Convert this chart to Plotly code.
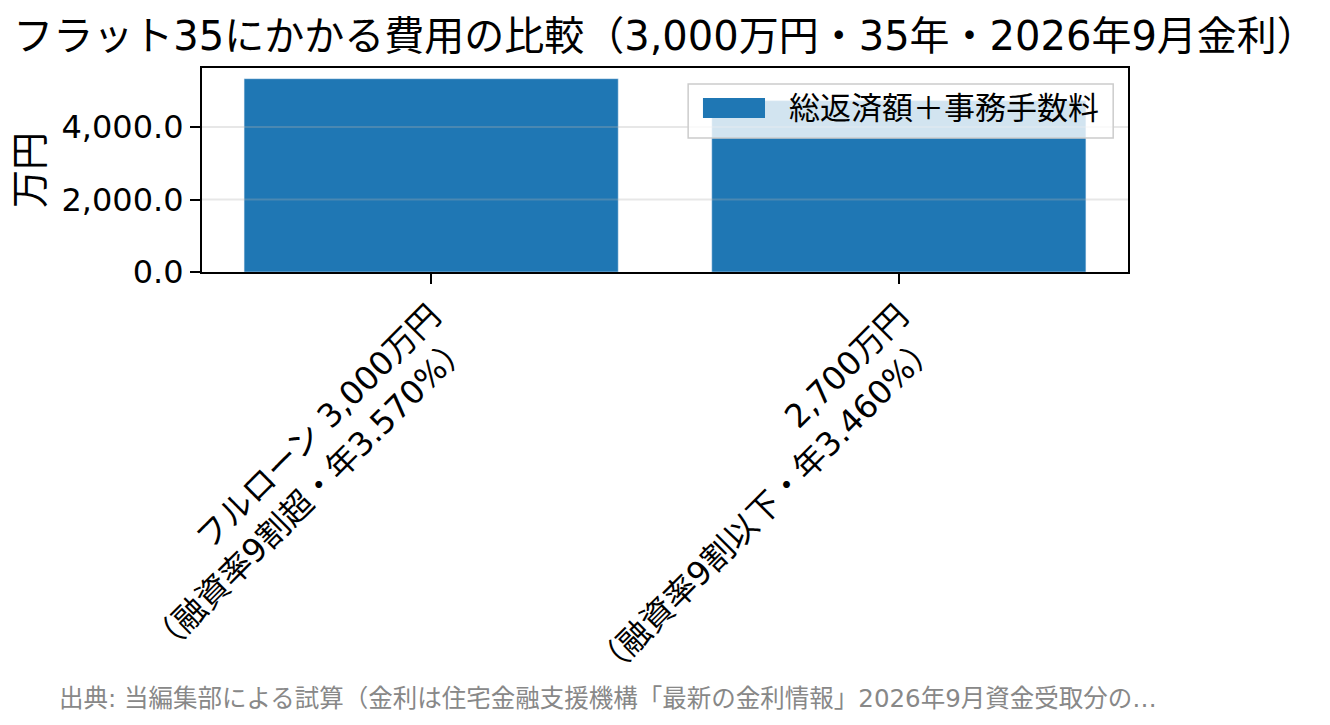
import plotly.graph_objects as go

# data
categories = [
    "フルローン 3,000万円<br>（融資率9割超・年3.570%）",
    "2,700万円<br>（融資率9割以下・年3.460%）",
]
totals = [5335, 4730]  # 総返済額＋事務手数料（万円）
y_ticks = [0, 2000, 4000]

title = "フラット35にかかる費用の比較（3,000万円・35年・2026年9月金利）"
legend_label = "総返済額＋事務手数料"
source = "出典: 当編集部による試算（金利は住宅金融支援機構「最新の金利情報」2026年9月資金受取分の…"

font = '"DejaVu Sans", "Noto Sans CJK JP", sans-serif'
blue = "#1f77b4"

fig = go.Figure()
fig.add_trace(go.Bar(x=categories, y=totals, name=legend_label,
                     marker_color=blue, width=0.8, showlegend=False))

# grid drawn over the bars, like the reference
for t in y_ticks[1:]:
    fig.add_shape(type="line", xref="paper", yref="y", x0=0, x1=1, y0=t, y1=t,
                  line=dict(color="rgba(176,176,176,0.3)", width=2), layer="above")

# matplotlib-style legend drawn by hand (wide patch)
fig.add_shape(type="rect", xref="paper", yref="paper",
              x0=0.525, x1=0.984, y0=0.657, y1=0.922,
              fillcolor="rgba(255,255,255,0.8)", line=dict(color="#cccccc", width=1.5))
fig.add_shape(type="rect", xref="paper", yref="paper",
              x0=0.541, x1=0.608, y0=0.755, y1=0.853,
              fillcolor=blue, line=dict(width=0))
fig.add_annotation(xref="paper", yref="paper", x=0.632, y=0.805,
                   text=legend_label, showarrow=False, xanchor="left", yanchor="middle",
                   font=dict(size=31, color="black", family=font))

fig.add_annotation(xref="paper", yref="paper", x=-0.157, y=-2.09,
                   text=source, showarrow=False, xanchor="left", yanchor="middle",
                   font=dict(size=24.5, color="#888888", family=font))

fig.update_layout(
    width=1330, height=725,
    margin=dict(l=194, r=210, t=60, b=461),
    plot_bgcolor="white", paper_bgcolor="white",
    font=dict(family=font, size=32, color="black"),
    title=dict(text=title, x=0.004, xanchor="left", y=0.962, yanchor="middle",
               font=dict(size=40, color="black")),
    bargap=0.2,
)
fig.update_xaxes(range=[-0.49, 1.49], tickangle=-45, ticks="outside", ticklen=10,
                 tickwidth=2, tickcolor="black", showline=True, linecolor="black",
                 linewidth=2, mirror=True, showgrid=False,
                 tickfont=dict(size=32.5))
fig.update_yaxes(range=[0, 5630], tickvals=y_ticks, tickformat=",.1f", ticks="outside",
                 ticklen=10, tickwidth=2, tickcolor="black", showline=True,
                 linecolor="black", linewidth=2, mirror=True, showgrid=False,
                 zeroline=False, title=dict(text="万円", standoff=10))

fig.write_html("out.html")
